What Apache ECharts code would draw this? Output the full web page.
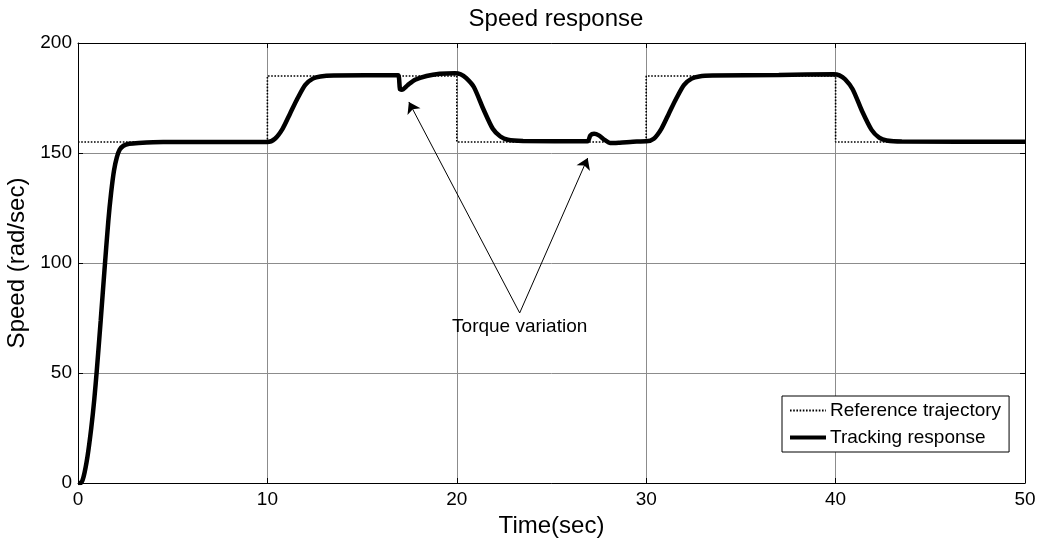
<!DOCTYPE html>
<html><head><meta charset="utf-8">
<script src="https://cdn.jsdelivr.net/npm/echarts@6/dist/echarts.min.js"></script>
<style>html,body{margin:0;padding:0;background:#fff}#c{width:1040px;height:541px}</style>
</head><body><div id="c"></div>
<script>
const xTicks = [0, 10, 20, 30, 40, 50];
const yTicks = [0, 50, 100, 150, 200];
const referenceTime  = [0, 10, 10, 20, 20, 30, 30, 40, 40, 50];
const referenceSpeed = [155, 155, 185, 185, 155, 155, 185, 185, 155, 155];
const trackingTime = [0, 0.15, 0.3, 0.5, 0.7, 0.86, 1.0, 1.2, 1.4, 1.6, 1.75, 1.9, 2.05, 2.2, 2.4, 2.7, 3.2, 4.5, 10,
  10.4, 10.8, 11.2, 11.6, 12.0, 12.4, 12.8, 13.5, 16.9, 16.95, 17.0, 17.1, 17.4, 17.8, 18.4, 19.1, 19.9,
  20.2, 20.5, 20.9, 21.4, 21.9, 22.3, 22.7, 23.5, 26.9, 27.05, 27.25, 27.5, 27.8, 28.1, 28.6, 29.5, 30,
  30.4, 30.8, 31.2, 31.6, 32.0, 32.4, 32.8, 33.5, 37, 39.9,
  40.2, 40.5, 40.9, 41.4, 41.9, 42.3, 42.7, 43.5, 50];
const trackingSpeed = [0, 0, 3, 12, 25, 38, 52, 74, 97, 119, 132, 142, 148, 151.5, 153.3, 154.2, 154.6, 155, 155,
  156.5, 161, 168, 175, 181, 183.8, 184.8, 185.2, 185.3, 184, 179, 178.8, 180.8, 183.3, 185, 186, 186.3,
  185.8, 184, 180, 170, 161, 157.5, 156, 155.5, 155.3, 158, 158.7, 158, 156, 154.5, 154.7, 155.2, 155.3,
  156.5, 161, 168, 175, 181, 183.8, 184.8, 185.2, 185.5, 185.8,
  185.3, 183.5, 179, 169, 160.5, 157, 155.7, 155.2, 155.1];
const annotationText = 'Torque variation';
const annotationApex = [23.32, 77.3];
const annotationTargets = [[17.47, 173.2], [26.91, 147.7]];
const annotationLabelPos = [23.32, 71.2];

const FONT = 'Liberation Sans, Arial, sans-serif';
const zip = (a, b) => a.map((v, i) => [v, b[i]]);
const chart = echarts.init(document.getElementById('c'), null, {renderer: 'canvas'});
const axisCommon = {
  axisLine: {show: true, onZero: false, lineStyle: {color: '#000', width: 1}},
  axisTick: {show: true, inside: true, length: 5, lineStyle: {color: '#000'}},
};
chart.setOption({
  animation: false,
  backgroundColor: '#fff',
  title: {text: 'Speed response', left: 551, textAlign: 'center', top: 2,
    textStyle: {fontFamily: FONT, fontSize: 24, fontWeight: 'normal', color: '#000'}},
  grid: {left: 78, right: 15, top: 43, bottom: 58, outerBoundsMode: 'none', containLabel: false},
  legend: {
    orient: 'vertical', left: 782, top: 396, width: 227,
    padding: [5, 8, 5, 6], itemGap: 8, itemWidth: 36, itemHeight: 14,
    backgroundColor: '#fff', borderColor: '#000', borderWidth: 1, borderRadius: 0,
    itemStyle: {opacity: 0},
    textStyle: {fontFamily: FONT, fontSize: 19, color: '#000', padding: [0, 0, 0, -1]},
    data: [{name: 'Reference trajectory'}, {name: 'Tracking response', lineStyle: {width: 4}}]
  },
  xAxis: [
    Object.assign({type: 'value', min: 0, max: 50, interval: 10, position: 'bottom',
      name: 'Time(sec)', nameLocation: 'middle', nameGap: 28,
      nameTextStyle: {fontFamily: FONT, fontSize: 24, color: '#000'},
      axisLabel: {fontFamily: FONT, fontSize: 19, color: '#000', margin: 7, formatter: v => xTicks.includes(v) ? String(v) : ''},
      splitLine: {show: true, lineStyle: {color: '#8c8c8c', width: 1}}}, axisCommon),
    Object.assign({type: 'value', min: 0, max: 50, interval: 10, position: 'top',
      axisLabel: {show: false}, splitLine: {show: false}}, axisCommon)
  ],
  yAxis: [
    Object.assign({type: 'value', min: 0, max: 200, interval: 50, position: 'left',
      name: 'Speed (rad/sec)', nameLocation: 'middle', nameGap: 45, nameRotate: 90,
      nameTextStyle: {fontFamily: FONT, fontSize: 24, color: '#000'},
      axisLabel: {fontFamily: FONT, fontSize: 19, color: '#000', margin: 6, formatter: v => yTicks.includes(v) ? String(v) : ''},
      splitLine: {show: true, lineStyle: {color: '#8c8c8c', width: 1}}}, axisCommon),
    Object.assign({type: 'value', min: 0, max: 200, interval: 50, position: 'right',
      axisLabel: {show: false}, splitLine: {show: false}}, axisCommon)
  ],
  series: [
    {name: 'Reference trajectory', type: 'line', data: zip(referenceTime, referenceSpeed),
      symbol: 'none', lineStyle: {color: '#000', width: 1.6, type: [1.6, 1.6]}, itemStyle: {color: '#000'}, z: 2},
    {name: 'Tracking response', type: 'line', data: zip(trackingTime, trackingSpeed),
      symbol: 'none', smooth: 0.25, lineStyle: {color: '#000', width: 4.5}, itemStyle: {color: '#000'}, z: 3,
      markLine: {silent: true, symbol: ['none', 'arrow'], symbolSize: 11, animation: false,
        lineStyle: {color: '#000', width: 1, type: 'solid'}, itemStyle: {color: '#000'}, label: {show: false},
        data: annotationTargets.map(t => [{coord: annotationApex}, {coord: t}])},
      markPoint: {silent: true, symbol: 'circle', symbolSize: 0,
        label: {show: true, formatter: annotationText, fontFamily: FONT, fontSize: 19, color: '#000', position: 'inside'},
        data: [{coord: annotationLabelPos}]}
    }
  ]
});
</script></body></html>
